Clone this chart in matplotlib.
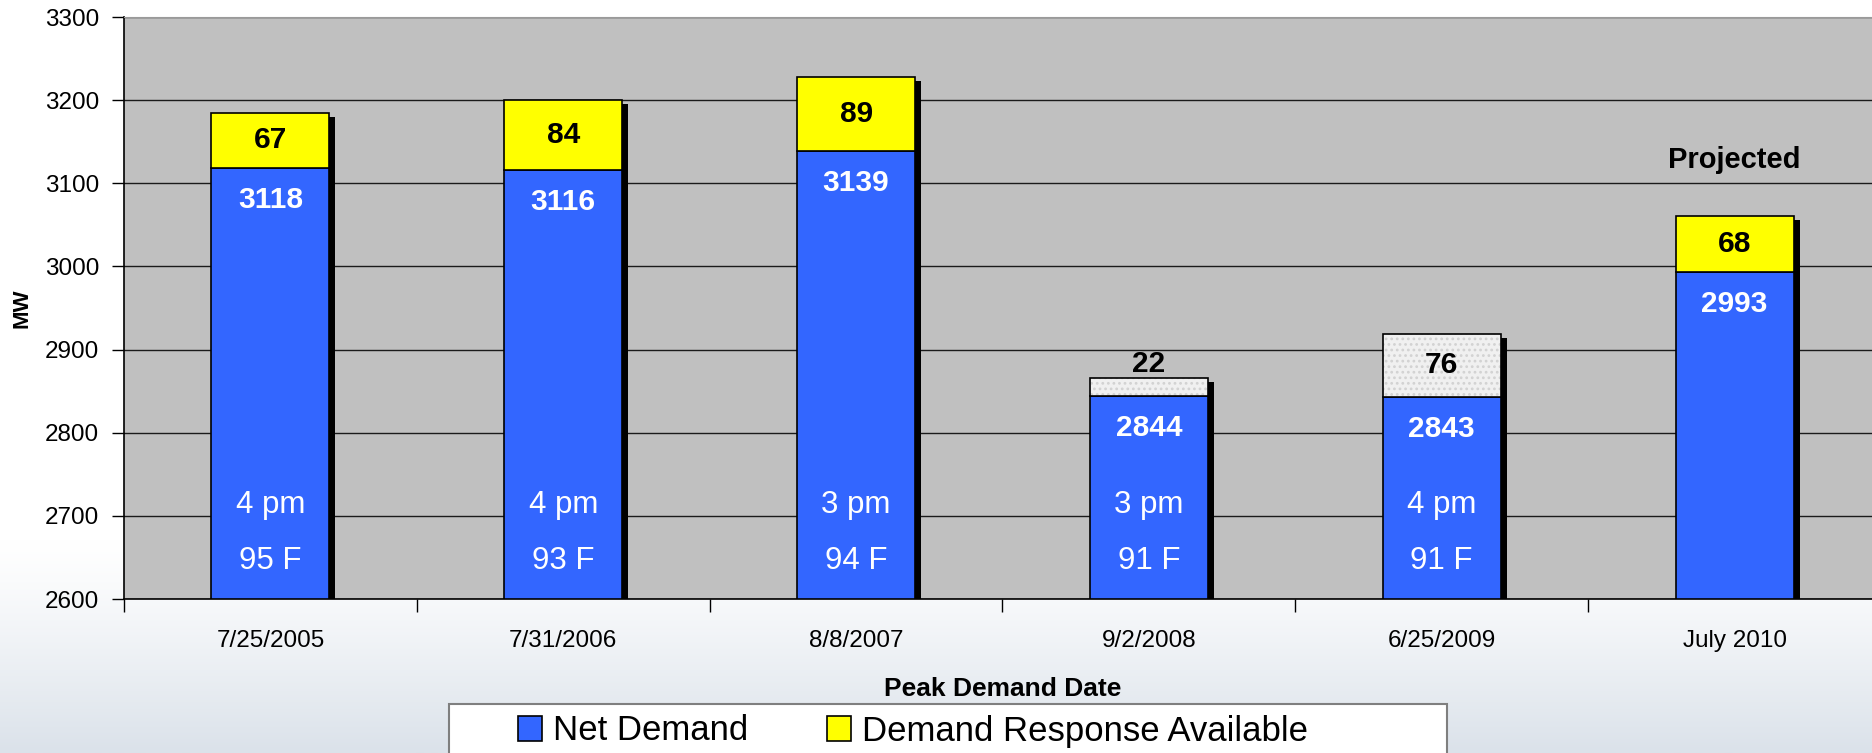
import numpy as np
import matplotlib
matplotlib.use("Agg")
import matplotlib.pyplot as plt
from matplotlib.patches import Rectangle

plt.rcParams['font.family'] = ['Liberation Sans', 'DejaVu Sans']
plt.rcParams['hatch.linewidth'] = 1.2

# peak demand data (MW)
dates = ['7/25/2005', '7/31/2006', '8/8/2007', '9/2/2008', '6/25/2009', 'July 2010']
net_demand = [3118, 3116, 3139, 2844, 2843, 2993]
demand_response = [67, 84, 89, 22, 76, 68]
dr_dispatched = [True, True, True, False, False, True]
peak_hour = ['4 pm', '4 pm', '3 pm', '3 pm', '4 pm', '']
peak_temp = ['95 F', '93 F', '94 F', '91 F', '91 F', '']

BLUE = '#3366ff'
YELLOW = '#ffff00'
GREY_BG = '#c0c0c0'

W, H = 1872, 753
fig = plt.figure(figsize=(W / 100, H / 100), dpi=100)

# soft background gradient behind everything
bg = fig.add_axes([0, 0, 1, 1], zorder=-10)
g = np.linspace(0, 1, 256)
g = np.clip((g - 0.72) / 0.28, 0, 1) ** 1.2
top_c = np.array([1.0, 1.0, 1.0])
bot_c = np.array([0xdb, 0xe2, 0xea]) / 255
grad = top_c[None, :] * (1 - g[:, None]) + bot_c[None, :] * g[:, None]
bg.imshow(grad[:, None, :], aspect='auto', extent=[0, 1, 0, 1])
bg.axis('off')

left_px, right_px, top_px, bot_px = 124, 1881, 17, 599
ax = fig.add_axes([left_px / W, 1 - bot_px / H, (right_px - left_px) / W, (bot_px - top_px) / H])
ax.set_facecolor(GREY_BG)

ymin, ymax = 2600, 3300
ax.set_xlim(-0.5, len(dates) - 0.5)
ax.set_ylim(ymin, ymax)

x = np.arange(len(dates))
width = 0.403
px_x = (right_px - left_px) / len(dates)
px_y = (bot_px - top_px) / (ymax - ymin)
dx = 6 / px_x
dy = 4 / px_y

totals = np.array(net_demand) + np.array(demand_response)

# drop shadows
ax.bar(x + dx, totals - dy - ymin, width, bottom=ymin, color='black', zorder=2)

# net demand
net_bars = ax.bar(x, np.array(net_demand) - ymin, width, bottom=ymin, color=BLUE,
                  edgecolor='black', linewidth=1.2, zorder=3, label='Net Demand')

# demand response on top
dr_handle = None
for i in range(len(dates)):
    if dr_dispatched[i]:
        b = ax.bar(x[i], demand_response[i], width, bottom=net_demand[i], color=YELLOW,
                   edgecolor='black', linewidth=1.2, zorder=3, label='Demand Response Available')
        if dr_handle is None:
            dr_handle = b
    else:
        ax.bar(x[i], demand_response[i], width, bottom=net_demand[i], color='#f0f0f0',
               edgecolor='#d2d2d2', linewidth=0, hatch='...', zorder=3)
        ax.bar(x[i], demand_response[i], width, bottom=net_demand[i], fill=False,
               edgecolor='black', linewidth=1.2, zorder=4)

# value labels
for i in range(len(dates)):
    ax.annotate(str(net_demand[i]), (x[i], net_demand[i]), xytext=(0, -23),
                textcoords='offset points', ha='center', va='center',
                color='white', fontsize=21.5, fontweight='bold', zorder=5)
    if demand_response[i] < 40:
        ax.annotate(str(demand_response[i]), (x[i], totals[i]), xytext=(0, 10),
                    textcoords='offset points', ha='center', va='center',
                    color='black', fontsize=21.5, fontweight='bold', zorder=5)
    else:
        ax.text(x[i], net_demand[i] + demand_response[i] / 2, str(demand_response[i]),
                ha='center', va='center', color='black', fontsize=21.5,
                fontweight='bold', zorder=5)
    if peak_hour[i]:
        ax.text(x[i], 2713, peak_hour[i], ha='center', va='center', color='white',
                fontsize=22.5, zorder=5)
        ax.text(x[i], 2646, peak_temp[i], ha='center', va='center', color='white',
                fontsize=22.5, zorder=5)

ax.text(x[-1], 3128, 'Projected', ha='center', va='center', fontsize=21,
        fontweight='bold', color='black')

# axes styling
ax.set_yticks(np.arange(ymin, ymax + 1, 100))
ax.yaxis.grid(True, color='#1a1a1a', linewidth=1.0, zorder=0)
ax.set_axisbelow(True)
ax.tick_params(axis='y', labelsize=17.5, length=9, width=1, pad=9, direction='out')
ax.set_xticks(x)
ax.set_xticklabels(dates)
ax.set_xticks(np.arange(len(dates) + 1) - 0.5, minor=True)
ax.tick_params(axis='x', which='major', length=0, labelsize=17.5, pad=22)
ax.tick_params(axis='x', which='minor', length=9, width=1, direction='out')
for s in ['left', 'bottom']:
    ax.spines[s].set_color('black')
    ax.spines[s].set_linewidth(1.2)
ax.spines['top'].set_color('#9a9a9a')
ax.spines['right'].set_visible(False)

ax.set_ylabel('MW', fontsize=16, fontweight='bold', va='center')
ax.yaxis.set_label_coords(-(left_px - 22) / (right_px - left_px), 0.5)
ax.set_xlabel('Peak Demand Date', fontsize=19, fontweight='bold', va='center')
ax.xaxis.set_label_coords(0.5, -(689 - bot_px) / (bot_px - top_px))

# legend panel at the bottom
fig.patches.append(Rectangle((449 / W, -0.05), (1447 - 449) / W, 0.05 + (H - 704) / H,
                             transform=fig.transFigure, facecolor='white',
                             edgecolor='#7f7f7f', linewidth=1.5, zorder=5))
leg = fig.legend([net_bars, dr_handle], ['Net Demand', 'Demand Response Available'],
                 loc='center left', bbox_to_anchor=(518 / W, 1 - 731 / H),
                 ncol=2, frameon=False, fontsize=25, handlelength=0.7, handleheight=0.7,
                 handletextpad=0.32, columnspacing=2.25, borderpad=0, borderaxespad=0)
leg.set_zorder(6)

fig.savefig('out.png', dpi=100)
